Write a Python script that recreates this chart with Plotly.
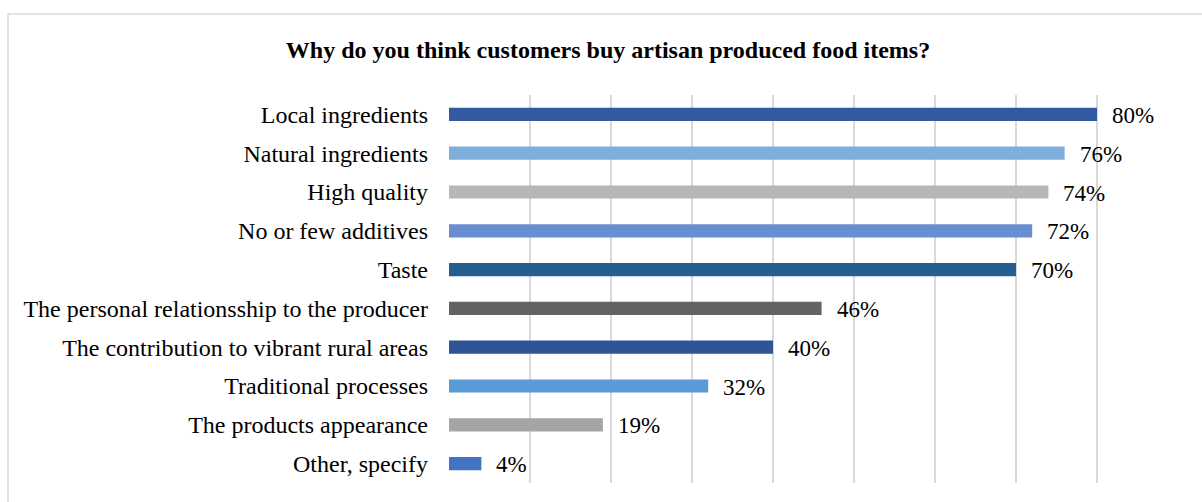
import plotly.graph_objects as go

categories = [
    "Local ingredients",
    "Natural ingredients",
    "High quality",
    "No or few additives",
    "Taste",
    "The personal relationsship to the producer",
    "The contribution to vibrant rural areas",
    "Traditional processes",
    "The products appearance",
    "Other, specify",
]
values = [0.80, 0.76, 0.74, 0.72, 0.70, 0.46, 0.40, 0.32, 0.19, 0.04]
value_labels = ["80%", "76%", "74%", "72%", "70%", "46%", "40%", "32%", "19%", "4%"]
colors = ["#335AA1", "#7DAEDC", "#B7B7B7", "#698ED0", "#255E91",
          "#636363", "#2F5597", "#5B9BD5", "#A5A5A5", "#4472C4"]
title = "Why do you think customers buy artisan produced food items?"

W, H = 1202, 502
L, R, T, B = 449, 24, 95, 19

fig = go.Figure()
fig.add_trace(go.Bar(
    y=categories, x=values, orientation="h",
    marker=dict(color=colors, line=dict(width=0)),
    width=0.34, hoverinfo="skip",
))
for c, v, t in zip(categories, values, value_labels):
    fig.add_annotation(x=v, y=c, text=t, showarrow=False, xanchor="left",
                       xshift=13, yshift=-1,
                       font=dict(family="Liberation Serif", size=23, color="#000000"))

pw = W - L - R
ph = H - T - B
fig.add_shape(type="rect", xref="paper", yref="paper",
              x0=(8 - L) / pw, x1=(1210 - L) / pw,
              y0=(H - 510 - B) / ph, y1=(H - 14 - B) / ph,
              line=dict(color="#D9D9D9", width=1.5), layer="below")

fig.update_layout(
    width=W, height=H,
    margin=dict(l=L, r=R, t=T, b=B),
    paper_bgcolor="white", plot_bgcolor="white",
    showlegend=False,
    title=dict(text="<b>" + title + "</b>", x=0.5 * (W + 14) / W, xanchor="center",
               y=1 - 50 / H, yanchor="middle", xref="container", yref="container",
               font=dict(family="Liberation Serif", size=24, color="#000000")),
    xaxis=dict(range=[0, 0.9], dtick=0.1, showgrid=True, gridcolor="#D9D9D9",
               gridwidth=2, showticklabels=False, zeroline=False, showline=False,
               fixedrange=True),
    yaxis=dict(autorange=False, range=[9.5, -0.5], showgrid=False,
               tickfont=dict(family="Liberation Serif", size=24, color="#000000"),
               ticklabelstandoff=20, showline=False, zeroline=False),
)
fig.write_html("out.html")
